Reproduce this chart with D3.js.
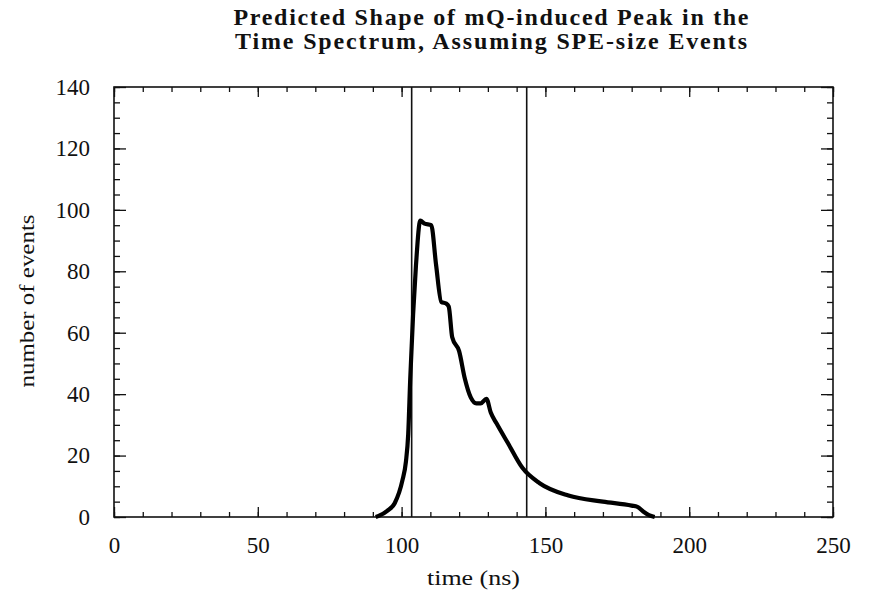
<!DOCTYPE html>
<html>
<meta charset="utf-8">
<head>
  <script src="https://d3js.org/d3.v7.js"></script>
  <style>
    body { margin: 0; background: #fff; }
    text { font-family: "Liberation Serif", "DejaVu Serif", serif; fill: #111; }
  </style>
</head>
<body>
<svg id="graph" width="869" height="590"></svg>
<script>
  // time (ns) and predicted number of events
  var times  = [91, 92.4, 95, 97.6, 100.3, 101.5, 102.3, 103, 104, 105, 106.5, 108, 110.3,
                112, 113.8, 115.5, 116.4, 117.6, 120, 122, 124, 126, 127.5, 129.5, 131,
                133, 137, 142, 148, 158, 170, 180, 182, 184, 186, 188];
  var counts = [0, 0.5, 2, 4.5, 12, 18, 27, 45, 66, 82, 96.5, 95.5, 95,
                82, 70, 69.5, 68.5, 58.5, 54, 45, 39, 37, 37, 38.5, 34,
                30.5, 24, 16, 11, 7, 5, 3.7, 3.3, 1.8, 0.6, 0];
  var cutLines = [103.5, 143.5];
  var xTicks = [0, 50, 100, 150, 200, 250];
  var yTicks = [0, 20, 40, 60, 80, 100, 120, 140];
  var titleLines = ["Predicted Shape of mQ-induced Peak in the",
                    "Time Spectrum, Assuming SPE-size Events"];

  var svg = d3.select("svg#graph");
  var margin = {top: 87, right: 36, bottom: 73, left: 114};
  var width = +svg.attr("width") - margin.left - margin.right;
  var height = +svg.attr("height") - margin.top - margin.bottom;
  var g = svg.append("g").attr("transform", `translate(${margin.left}, ${margin.top})`);

  var xScale = d3.scaleLinear().domain([0, 250]).range([0, width]);
  var yScale = d3.scaleLinear().domain([0, 140]).range([height, 0]);

  function styleAxis(sel) {
    sel.select(".domain").remove();
    sel.selectAll("line").attr("stroke", "#111").attr("stroke-width", 1.3);
  }

  // minor + major inward ticks on all four sides
  var xMinor = d3.range(0, 251, 10), yMinor = d3.range(0, 141, 5);
  g.append("g").attr("transform", `translate(0, ${height})`)
    .call(d3.axisBottom(xScale).tickValues(xMinor).tickSize(-5).tickFormat(""))
    .call(styleAxis);
  g.append("g")
    .call(d3.axisTop(xScale).tickValues(xMinor).tickSize(-5).tickFormat(""))
    .call(styleAxis);
  g.append("g")
    .call(d3.axisLeft(yScale).tickValues(yMinor).tickSize(-6).tickFormat(""))
    .call(styleAxis);
  g.append("g").attr("transform", `translate(${width}, 0)`)
    .call(d3.axisRight(yScale).tickValues(yMinor).tickSize(-6).tickFormat(""))
    .call(styleAxis);

  var xAxis = g.append("g").attr("transform", `translate(0, ${height})`)
    .call(d3.axisBottom(xScale).tickValues(xTicks).tickSize(-10).tickPadding(20))
    .call(styleAxis);
  xAxis.selectAll("text").style("font-size", "23px").style("font-family", "Liberation Serif");
  g.append("g")
    .call(d3.axisTop(xScale).tickValues(xTicks).tickSize(-10).tickFormat(""))
    .call(styleAxis);
  var yAxis = g.append("g")
    .call(d3.axisLeft(yScale).tickValues(yTicks).tickSize(-12).tickPadding(24))
    .call(styleAxis);
  yAxis.selectAll("text").style("font-size", "23px").style("font-family", "Liberation Serif");
  g.append("g").attr("transform", `translate(${width}, 0)`)
    .call(d3.axisRight(yScale).tickValues(yTicks).tickSize(-12).tickFormat(""))
    .call(styleAxis);

  // frame
  g.append("rect")
    .attr("width", width).attr("height", height)
    .attr("fill", "none").attr("stroke", "#111").attr("stroke-width", 1.6);

  // cut lines
  g.selectAll("line.cut")
    .data(cutLines)
    .enter()
    .append("line")
    .attr("class", "cut")
    .attr("x1", d => xScale(d)).attr("x2", d => xScale(d))
    .attr("y1", 0).attr("y2", height)
    .attr("stroke", "#111").attr("stroke-width", 1.6);

  var line = d3.line()
    .x((d, i) => xScale(times[i]))
    .y(d => yScale(d))
    .curve(d3.curveMonotoneX);

  g.append("path")
    .datum(counts)
    .attr("d", line)
    .attr("fill", "none")
    .attr("stroke", "#000")
    .attr("stroke-width", 4.2)
    .attr("stroke-linejoin", "round");

  // title
  svg.selectAll("text.title")
    .data(titleLines)
    .enter()
    .append("text")
    .attr("class", "title")
    .attr("x", 491)
    .attr("y", (d, i) => 25 + i * 24)
    .attr("text-anchor", "middle")
    .attr("textLength", (d, i) => i === 0 ? 515 : 512)
    .attr("lengthAdjust", "spacing")
    .style("font-size", "24px")
    .style("font-weight", "bold")
    .text(d => d);

  g.append("text")
    .attr("x", width / 2)
    .attr("y", height + 68)
    .attr("text-anchor", "middle")
    .attr("textLength", 93)
    .attr("lengthAdjust", "spacingAndGlyphs")
    .style("font-size", "22px")
    .text("time (ns)");

  g.append("text")
    .attr("transform", "rotate(-90)")
    .attr("x", -(301 - margin.top))
    .attr("y", -80)
    .attr("text-anchor", "middle")
    .attr("textLength", 173)
    .attr("lengthAdjust", "spacingAndGlyphs")
    .style("font-size", "22px")
    .text("number of events");
</script>
</body>
</html>
